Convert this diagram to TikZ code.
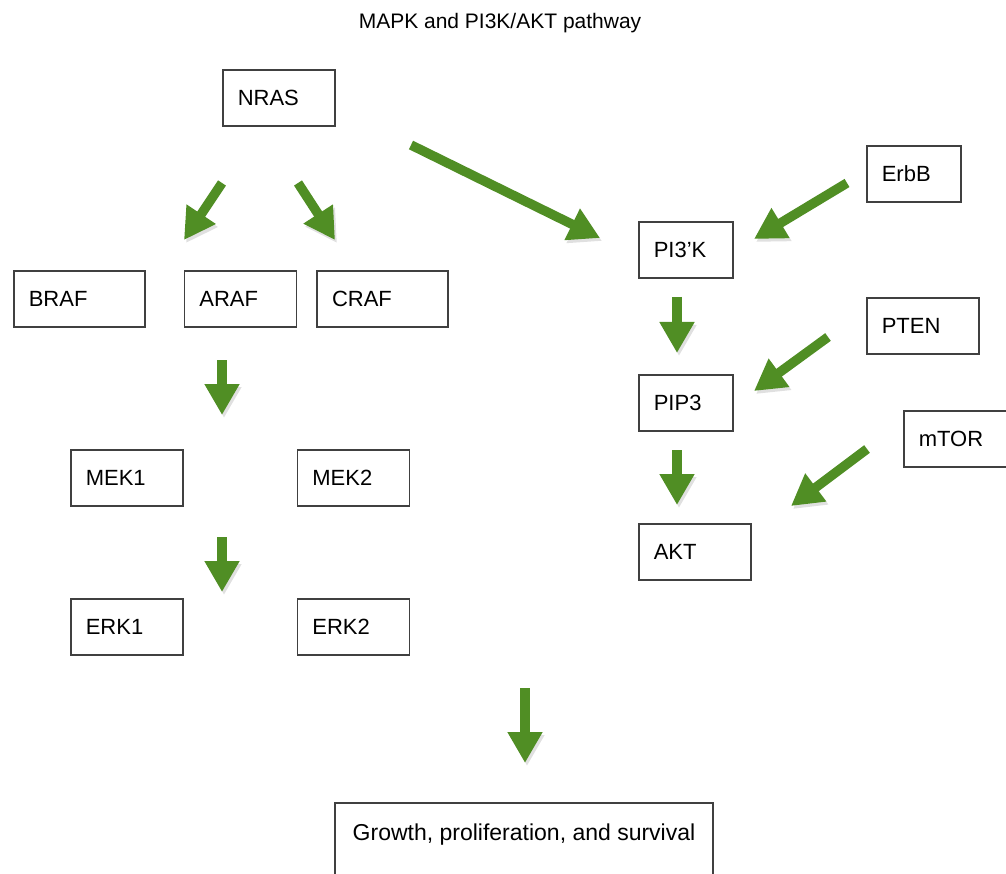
\documentclass[tikz,border=0pt]{standalone}
\usepackage{fontspec}
\setmainfont{Liberation Sans}
\usepackage{tikz}
\usetikzlibrary{positioning,arrows.meta}

\definecolor{arrowgreen}{RGB}{80,142,36}

\tikzset{
  box/.style={draw=black!75, line width=1.6pt, inner xsep=15pt, minimum height=56pt,
    align=left, anchor=north west, font=\fontsize{22pt}{26pt}\selectfont},
  flow/.style={-{Triangle[width=33pt,length=31pt]}, line width=9.5pt, draw=arrowgreen,
    preaction={draw=black, opacity=0.12, transform canvas={shift={(2pt,-3pt)}}}}
}

\begin{document}
\begin{tikzpicture}[x=1pt,y=-1pt]
  \useasboundingbox (0,0) rectangle (1006,874);

  \node[anchor=base, font=\fontsize{21pt}{25pt}\selectfont] (title) at (500,29) {MAPK and PI3K/AKT pathway};

  % MAPK side
  \node[box, text width=82pt] (nras) at (222,69) {NRAS};
  \node[box, text width=101pt] (braf) at (13,270) {BRAF};
  \node[box, text width=82pt, anchor=west, right=38pt of braf] (araf) {ARAF};
  \node[box, text width=101pt, anchor=west, right=19pt of araf] (craf) {CRAF};
  \node[box, text width=82pt] (mek1) at (70,449) {MEK1};
  \node[box, text width=82pt, anchor=west, right=113pt of mek1] (mek2) {MEK2};
  \node[box, text width=82pt] (erk1) at (70,598) {ERK1};
  \node[box, text width=82pt, anchor=west, right=113pt of erk1] (erk2) {ERK2};

  % PI3K side
  \node[box, text width=64pt] (pi3k) at (638,221) {PI3’K};
  \node[box, text width=64pt] (erbb) at (866,145) {ErbB};
  \node[box, text width=82pt] (pten) at (866,297) {PTEN};
  \node[box, text width=64pt] (pip3) at (638,374) {PIP3};
  \node[box, text width=82pt] (mtor) at (903,410) {mTOR};
  \node[box, text width=82pt] (akt) at (638,523) {AKT};

  \node[box, anchor=north, align=center, minimum width=378pt, text height=17pt, text depth=80pt,
    inner ysep=21pt, font=\fontsize{23pt}{27pt}\selectfont] (growth) at (524,802) {Growth, proliferation, and survival};

  % arrow ends
  \coordinate (nras-l) at (222,183);  \coordinate (raf-l) at (184,240);
  \coordinate (nras-r) at (298,183);  \coordinate (raf-r) at (335,240);
  \coordinate (nras-p) at (411,145);  \coordinate (pi3k-in) at (600,238);
  \coordinate (erbb-out) at (847,183); \coordinate (pi3k-e) at (754,239);
  \coordinate (raf-out) at (222,360); \coordinate (mek-in) at (222,415);
  \coordinate (mek-out) at (222,537); \coordinate (erk-in) at (222,592);
  \coordinate (pi3k-out) at (677,297); \coordinate (pip3-in) at (677,353);
  \coordinate (pten-out) at (828,337); \coordinate (pip3-e) at (754,391);
  \coordinate (pip3-out) at (677,450); \coordinate (akt-in) at (677,505);
  \coordinate (mtor-out) at (867,449); \coordinate (akt-e) at (791,506);
  \coordinate (all-out) at (525,688); \coordinate (growth-in) at (525,763);

  %nras>raf
  \draw[flow] (nras-l) -- (raf-l);
  \draw[flow] (nras-r) -- (raf-r);
  \draw[flow] (nras-p) -- (pi3k-in);
  %raf>mek>erk
  \draw[flow] (raf-out) -- (mek-in);
  \draw[flow] (mek-out) -- (erk-in);
  %pi3k>pip3>akt
  \draw[flow] (erbb-out) -- (pi3k-e);
  \draw[flow] (pi3k-out) -- (pip3-in);
  \draw[flow] (pten-out) -- (pip3-e);
  \draw[flow] (pip3-out) -- (akt-in);
  \draw[flow] (mtor-out) -- (akt-e);
  %>growth
  \draw[flow] (all-out) -- (growth-in);
\end{tikzpicture}
\end{document}
